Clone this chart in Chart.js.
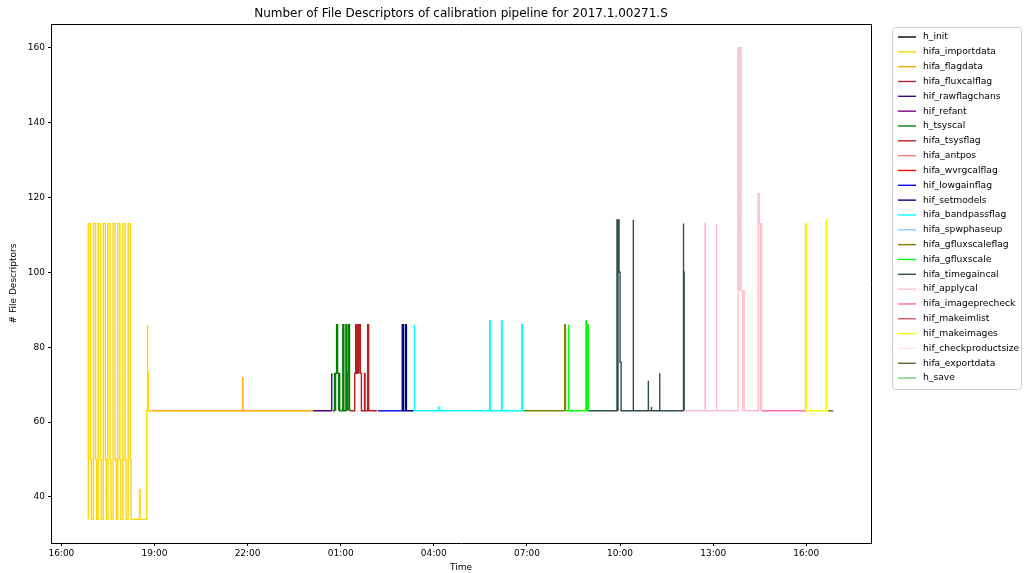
<!DOCTYPE html>
<html>
<head>
<meta charset="utf-8">
<script src="https://cdn.jsdelivr.net/npm/chart.js@4.4.0/dist/chart.umd.min.js"></script>
<style>
  html, body { margin: 0; padding: 0; background: #fff; }
  #wrap { width: 1026px; height: 573px; position: relative; }
</style>
</head>
<body>
<div id="wrap"><canvas id="fdChart"></canvas></div>
<script>
// task names, in pipeline order (legend order)
const taskNames = [
  'h_init', 'hifa_importdata', 'hifa_flagdata', 'hifa_fluxcalflag', 'hif_rawflagchans',
  'hif_refant', 'h_tsyscal', 'hifa_tsysflag', 'hifa_antpos', 'hifa_wvrgcalflag',
  'hif_lowgainflag', 'hif_setmodels', 'hifa_bandpassflag', 'hifa_spwphaseup',
  'hifa_gfluxscaleflag', 'hifa_gfluxscale', 'hifa_timegaincal', 'hif_applycal',
  'hifa_imageprecheck', 'hif_makeimlist', 'hif_makeimages', 'hif_checkproductsize',
  'hifa_exportdata', 'h_save'
];
const taskColors = [
  '#000000', '#FFD700', '#FFA500', '#A52A2A', '#4B0082',
  '#800080', '#008000', '#B22222', '#FA8072', '#FF0000',
  '#0000FF', '#000080', '#00FFFF', '#87CEFA',
  '#808000', '#00FF00', '#2F4F4F', '#FFC0CB',
  '#FF69B4', '#CD5C5C', '#FFFF00', '#FFE4E1',
  '#556B2F', '#76C776'
];

// [clock time, number of file descriptors]; the run goes past midnight,
// so a clock time earlier than the previous one means the next day
const h_init = [['16:52', 34]];
const hifa_importdata = [
  ['16:52', 34], ['16:52', 113], ['16:56', 113], ['16:56', 50], ['16:58', 50], ['16:58', 34],
  ['17:02', 34], ['17:02', 113], ['17:06', 113], ['17:06', 50], ['17:08', 50], ['17:08', 34],
  ['17:11', 34], ['17:11', 113], ['17:15', 113], ['17:15', 50], ['17:17', 50], ['17:17', 34],
  ['17:21', 34], ['17:21', 113], ['17:25', 113], ['17:25', 50], ['17:27', 50], ['17:27', 34],
  ['17:30', 34], ['17:30', 113], ['17:34', 113], ['17:34', 50], ['17:36', 50], ['17:36', 34],
  ['17:40', 34], ['17:40', 113], ['17:44', 113], ['17:44', 50], ['17:46', 50], ['17:46', 34],
  ['17:49', 34], ['17:49', 113], ['17:53', 113], ['17:53', 50], ['17:55', 50], ['17:55', 34],
  ['17:59', 34], ['17:59', 113], ['18:03', 113], ['18:03', 50], ['18:05', 50], ['18:05', 34],
  ['18:09', 34], ['18:09', 113], ['18:13', 113], ['18:13', 50], ['18:15', 50], ['18:15', 34],
  ['18:31', 34], ['18:31', 42], ['18:32', 42], ['18:32', 34],
  ['18:45', 34], ['18:45', 63], ['18:46', 63], ['18:46', 86], ['18:47', 86], ['18:47', 73],
  ['18:48', 73], ['18:48', 63], ['18:56', 63]
];
const hifa_flagdata = [['18:56', 63], ['21:50', 63], ['21:50', 72], ['21:51', 72], ['21:51', 63], ['00:06', 63]];
const hifa_fluxcalflag = [['00:06', 63], ['00:07', 63]];
const hif_rawflagchans = [['00:07', 63], ['00:42', 63], ['00:42', 73], ['00:43', 73], ['00:43', 63], ['00:44', 63]];
const hif_refant = [['00:44', 63], ['00:45', 63]];
const h_tsyscal = [
  ['00:45', 63], ['00:48', 63], ['00:48', 73], ['00:50', 73], ['00:50', 63], ['00:50', 73],
  ['00:52', 73], ['00:52', 86], ['00:54', 86], ['00:54', 73], ['00:56', 73], ['00:56', 63],
  ['00:56', 73], ['00:58', 73], ['00:58', 63], ['01:04', 63], ['01:04', 86], ['01:06', 86],
  ['01:06', 63], ['01:10', 63], ['01:10', 86], ['01:11', 86], ['01:11', 63], ['01:12', 63],
  ['01:12', 73], ['01:14', 73], ['01:14', 63], ['01:14', 73], ['01:15', 73], ['01:15', 86],
  ['01:17', 86], ['01:17', 63]
];
const hifa_tsysflag = [
  ['01:17', 63], ['01:27', 63], ['01:27', 73], ['01:29', 73], ['01:29', 86], ['01:31', 86],
  ['01:31', 73], ['01:33', 73], ['01:33', 86], ['01:35', 86], ['01:35', 73], ['01:36', 86],
  ['01:38', 86], ['01:38', 73], ['01:40', 73], ['01:40', 63], ['01:46', 63], ['01:46', 73],
  ['01:47', 73], ['01:47', 63], ['01:52', 63], ['01:52', 86], ['01:54', 86], ['01:54', 63],
  ['02:10', 63]
];
const hifa_antpos = [['02:10', 63], ['02:11', 63]];
const hifa_wvrgcalflag = [['02:11', 63], ['02:12', 63]];
const hif_lowgainflag = [['02:12', 63], ['02:55', 63]];
const hif_setmodels = [
  ['02:55', 63], ['02:59', 63], ['02:59', 86], ['03:01', 86], ['03:01', 63],
  ['03:05', 63], ['03:05', 86], ['03:07', 86], ['03:07', 63], ['03:21', 63]
];
const hifa_bandpassflag = [
  ['03:21', 63], ['03:22', 63], ['03:22', 86], ['03:23', 86], ['03:23', 63],
  ['04:09', 63], ['04:09', 64], ['04:10', 64], ['04:10', 63],
  ['05:48', 63], ['05:48', 87], ['05:49', 87], ['05:49', 63],
  ['06:11', 63], ['06:11', 87], ['06:12', 87], ['06:12', 63],
  ['06:50', 63], ['06:50', 86], ['06:51', 86], ['06:51', 63], ['06:52', 63]
];
const hifa_spwphaseup = [['06:52', 63], ['06:53', 63]];
const hifa_gfluxscaleflag = [['06:53', 63], ['08:13', 63], ['08:13', 86], ['08:14', 86], ['08:14', 63], ['08:15', 63]];
const hifa_gfluxscale = [
  ['08:15', 63], ['08:20', 63], ['08:20', 86], ['08:21', 86], ['08:21', 63],
  ['08:54', 63], ['08:54', 87], ['08:55', 87], ['08:55', 63], ['08:57', 63], ['08:57', 86],
  ['08:58', 86], ['08:58', 63], ['08:59', 63]
];
const hifa_timegaincal = [
  ['08:59', 63], ['09:54', 63], ['09:54', 114], ['09:56', 114], ['09:56', 63], ['09:56', 114],
  ['09:58', 114], ['09:58', 100], ['10:00', 100], ['10:00', 76], ['10:02', 76], ['10:02', 63],
  ['10:25', 63], ['10:25', 114], ['10:26', 114], ['10:26', 63],
  ['10:54', 63], ['10:54', 71], ['10:55', 71], ['10:55', 63], ['11:00', 63],
  ['11:00', 64], ['11:01', 64], ['11:01', 63], ['11:16', 63], ['11:16', 73], ['11:17', 73],
  ['11:17', 63], ['12:02', 63], ['12:02', 113], ['12:03', 113], ['12:03', 100], ['12:04', 100],
  ['12:04', 63]
];
const hif_applycal = [
  ['12:04', 63], ['12:44', 63], ['12:44', 113], ['12:45', 113], ['12:45', 63],
  ['13:06', 63], ['13:06', 113], ['13:07', 113], ['13:07', 63],
  ['13:48', 63], ['13:48', 160], ['13:51', 160], ['13:51', 95], ['13:51', 160], ['13:54', 160],
  ['13:54', 95], ['13:57', 95], ['13:57', 63], ['13:57', 95], ['14:00', 95], ['14:00', 63],
  ['14:27', 63], ['14:27', 121], ['14:29', 121], ['14:29', 113], ['14:31', 113], ['14:31', 63],
  ['14:31', 113], ['14:33', 113], ['14:33', 63], ['14:34', 63]
];
const hifa_imageprecheck = [['14:34', 63], ['15:58', 63]];
const hif_makeimlist = [['15:58', 63], ['15:58', 113], ['15:59', 113], ['15:59', 63]];
const hif_makeimages = [
  ['15:59', 63], ['15:59', 113], ['16:00', 113], ['16:00', 63],
  ['16:38', 63], ['16:38', 114], ['16:39', 114], ['16:39', 63], ['16:41', 63]
];
const hif_checkproductsize = [['16:41', 63], ['16:42', 63]];
const hifa_exportdata = [['16:42', 63], ['16:52', 63]];
const h_save = [['16:52', 63], ['16:53', 63]];

const taskData = [
  h_init, hifa_importdata, hifa_flagdata, hifa_fluxcalflag, hif_rawflagchans,
  hif_refant, h_tsyscal, hifa_tsysflag, hifa_antpos, hifa_wvrgcalflag,
  hif_lowgainflag, hif_setmodels, hifa_bandpassflag, hifa_spwphaseup,
  hifa_gfluxscaleflag, hifa_gfluxscale, hifa_timegaincal, hif_applycal,
  hifa_imageprecheck, hif_makeimlist, hif_makeimages, hif_checkproductsize,
  hifa_exportdata, h_save
];

const xTickHours = [16, 19, 22, 25, 28, 31, 34, 37, 40];
const xTickLabels = ['16:00', '19:00', '22:00', '01:00', '04:00', '07:00', '10:00', '13:00', '16:00'];
const yTickValues = [40, 60, 80, 100, 120, 140, 160];

const chartTitle = 'Number of File Descriptors of calibration pipeline for 2017.1.00271.S';
const FONT = "'DejaVu Sans', sans-serif";

// clock strings -> hours since midnight of the first day, walking the tasks in order
let dayOffset = 0, lastClock = -1;
const taskPoints = taskData.map(series => series.map(([clock, n]) => {
  const [h, m] = clock.split(':').map(Number);
  const c = h + m / 60;
  if (c < lastClock) dayOffset += 24;
  lastClock = c;
  return { x: c + dayOffset, y: n };
}));

// matplotlib style autoscale: 5% margin on each side
const allX = taskPoints.flat().map(p => p.x);
const allY = taskPoints.flat().map(p => p.y);
const xLo = Math.min(...allX), xHi = Math.max(...allX);
const yLo = Math.min(...allY), yHi = Math.max(...allY);
const xMin = xLo - 0.05 * (xHi - xLo), xMax = xHi + 0.05 * (xHi - xLo);
const yMin = yLo - 0.05 * (yHi - yLo), yMax = yHi + 0.05 * (yHi - yLo);

const datasets = taskNames.map((name, i) => ({
  label: name,
  data: taskPoints[i],
  borderColor: taskColors[i],
  backgroundColor: taskColors[i],
  borderWidth: 1.4,
  pointRadius: 0,
  tension: 0,
  fill: false,
  order: -i
}));

const decorPlugin = {
  id: 'decor',
  afterDraw(chart) {
    const ctx = chart.ctx;
    const a = chart.chartArea;
    ctx.save();
    // top and right spines
    ctx.strokeStyle = '#000';
    ctx.lineWidth = 1;
    ctx.beginPath();
    ctx.moveTo(a.left, a.top + 0.5);
    ctx.lineTo(a.right + 0.5, a.top + 0.5);
    ctx.lineTo(a.right + 0.5, a.bottom);
    ctx.stroke();

    // title
    ctx.fillStyle = '#000';
    ctx.font = '12px ' + FONT;
    ctx.textAlign = 'center';
    ctx.textBaseline = 'middle';
    ctx.fillText(chartTitle, (a.left + a.right) / 2, 14);

    // legend
    const bx = 892, by = 27, bw = 129, rowH = 14.83;
    const bh = rowH * taskNames.length + 6;
    ctx.fillStyle = 'rgba(255,255,255,0.8)';
    ctx.strokeStyle = '#cccccc';
    ctx.lineWidth = 1;
    ctx.beginPath();
    ctx.roundRect(bx + 0.5, by + 0.5, bw, bh, 3);
    ctx.fill();
    ctx.stroke();
    ctx.font = '9.2px ' + FONT;
    ctx.textAlign = 'left';
    taskNames.forEach((name, i) => {
      const y = by + 10 + i * rowH;
      ctx.strokeStyle = taskColors[i];
      ctx.lineWidth = 1.4;
      ctx.beginPath();
      ctx.moveTo(898, y);
      ctx.lineTo(916, y);
      ctx.stroke();
      ctx.fillStyle = '#000';
      ctx.fillText(name, 923, y);
    });
    ctx.restore();
  }
};

new Chart(document.getElementById('fdChart'), {
  type: 'line',
  data: { datasets },
  options: {
    responsive: true,
    maintainAspectRatio: false,
    animation: false,
    devicePixelRatio: 1,
    parsing: false,
    layout: { padding: { top: 24, right: 155, left: 0, bottom: 0 } },
    plugins: {
      legend: { display: false },
      tooltip: { enabled: false },
      title: { display: false }
    },
    scales: {
      x: {
        type: 'linear',
        min: xMin,
        max: xMax,
        afterFit: s => { s.height = 30; },
        afterBuildTicks: s => { s.ticks = xTickHours.map(v => ({ value: v })); },
        ticks: {
          autoSkip: false,
          maxRotation: 0,
          padding: 2,
          color: '#000',
          font: { family: FONT, size: 9 },
          callback: v => xTickLabels[xTickHours.indexOf(v)]
        },
        grid: { drawOnChartArea: false, drawTicks: true, tickLength: 3, color: '#000' },
        border: { color: '#000' },
        title: { display: true, text: 'Time', color: '#000', font: { family: FONT, size: 9 }, padding: { top: 0, bottom: 0 } }
      },
      y: {
        type: 'linear',
        min: yMin,
        max: yMax,
        afterFit: s => { s.width = 51; },
        afterBuildTicks: s => { s.ticks = yTickValues.map(v => ({ value: v })); },
        ticks: {
          padding: 3,
          color: '#000',
          font: { family: FONT, size: 9 },
          callback: v => String(v)
        },
        grid: { drawOnChartArea: false, drawTicks: true, tickLength: 3, color: '#000' },
        border: { color: '#000' },
        title: { display: true, text: '# File Descriptors', color: '#000', font: { family: FONT, size: 9 }, padding: { top: 8, bottom: 0 } }
      }
    }
  },
  plugins: [decorPlugin]
});
</script>
</body>
</html>
